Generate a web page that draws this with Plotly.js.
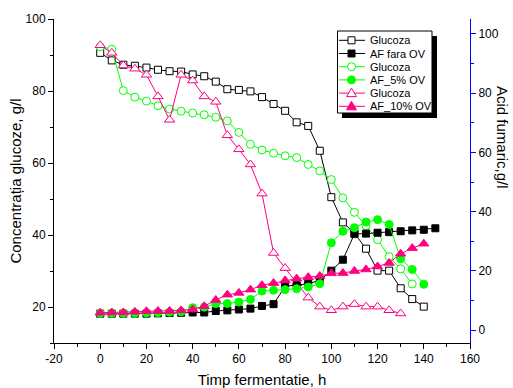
<!DOCTYPE html>
<html><head><meta charset="utf-8">
<script src="https://cdn.plot.ly/plotly-3.0.1.min.js"></script>
<style>html,body{margin:0;padding:0;background:#fff}#chart{width:513px;height:388px}</style>
</head><body><div id="chart"></div>
<script>
// ---- data ----
const tBlack = [0,5,10,15,20,25,30,35,40,45,50,55,60,65,70,75,80,85,90,95,100,105,110,115,120,125,130,135,140];
const glucBlack = [90.6,88.5,87.3,87.0,86.5,85.9,85.5,85.4,84.6,84.1,82.6,80.5,80.3,79.9,78.3,76.4,74.5,71.3,70.3,63.4,50.5,43.5,40.5,36.2,30.1,30.1,25.2,22.2,20.1];
const tAFBlack = [0,5,10,15,20,25,30,35,40,45,50,55,60,65,70,75,80,85,90,95,100,105,110,115,120,125,130,135,140,145];
const afBlack = [5.6,5.6,5.6,5.6,5.6,5.7,5.8,5.9,6.0,6.0,6.5,6.7,7.0,7.3,8.2,8.8,14.8,15.2,15.7,16.8,20.1,23.8,32.5,32.6,32.9,33.1,33.4,33.7,33.9,34.4];
const tGreen = [0,5,10,15,20,25,30,35,40,45,50,55,60,65,70,75,80,85,90,95,100,105,110,115,120,125,130,135];
const glucGreen = [92.3,91.6,80.1,78.3,77.2,75.9,75.0,74.4,73.9,73.4,72.7,71.7,68.5,65.2,63.6,62.7,62.0,61.5,59.6,57.8,55.4,50.3,46.3,42.6,38.7,34.0,30.6,26.4];
const tAFGreen = [0,5,10,15,20,25,30,35,40,45,50,55,60,65,70,75,80,85,90,95,100,105,110,115,120,125,130,135,140];
const afGreen = [5.7,5.7,5.7,5.7,5.8,5.9,6.1,6.2,7.6,7.8,9.0,9.0,9.5,10.4,13.2,13.5,13.7,14.0,14.6,15.7,29.5,33.4,34.6,36.5,37.3,35.7,24.1,20.5,15.5];
const tPink = [0,5,10,15,20,25,30,35,40,45,50,55,60,65,70,75,80,85,90,95,100,105,110,115,120,125,130];
const glucPink = [92.7,90.6,87.1,86.2,84.5,78.5,72.0,84.5,82.9,78.5,77.0,67.7,63.8,59.6,51.5,35.0,30.8,26.6,22.6,20.1,19.1,20.1,20.8,20.1,20.1,19.1,18.2];
const tAFPink = [0,5,10,15,20,25,30,35,40,45,50,55,60,65,70,75,80,85,90,95,100,105,110,115,120,125,130,135,140];
const afPink = [5.9,6.0,6.0,6.2,6.4,6.5,6.5,6.7,7.0,8.1,10.2,12.0,12.6,13.7,15.2,15.9,16.8,17.4,17.9,18.3,19.2,19.3,20.0,20.5,21.5,22.7,25.8,27.7,29.2];

const seriesNames = ['Glucoza','AF fara OV','Glucoza','AF_5% OV','Glucoza','AF_10% OV'];
const xTickVals = [-20,0,20,40,60,80,100,120,140,160];
const xTickText = ['-20','0','20','40','60','80','100','120','140','160'];
const yTickVals = [20,40,60,80,100];
const y2TickVals = [0,20,40,60,80,100];

// ---- styles ----
const BLACK='#000000', GREEN='#00ff00', PINK='#ff0080', BLUE='#0000ff';
const FONT='"Liberation Sans", Arial, sans-serif';
const styles = [
  {color:BLACK, symbol:'square', open:true, size:7},
  {color:BLACK, symbol:'square', open:false, size:7},
  {color:GREEN, symbol:'circle', open:true, size:8},
  {color:GREEN, symbol:'circle', open:false, size:8},
  {color:PINK, symbol:'triangle-up', open:true, size:9},
  {color:PINK, symbol:'triangle-up', open:false, size:9}
];
const xs = [tBlack,tAFBlack,tGreen,tAFGreen,tPink,tAFPink];
const ys = [glucBlack,afBlack,glucGreen,afGreen,glucPink,afPink];

const traces = ys.map((y,i)=>{
  const s = styles[i];
  return {
    type:'scatter', mode:'lines+markers', name:seriesNames[i],
    x:xs[i], y:y, yaxis: (i%2===1)?'y2':'y', showlegend:false,
    line:{color:s.color, width:1},
    marker:{symbol:s.symbol, size:s.size, color: s.open?'#ffffff':s.color,
            line:{color:s.color, width:1}}
  };
});

// ---- layout geometry ----
const W=513,H=388,ML=54,MR=43,MT=19,MB=45;
const PW=W-ML-MR, PH=H-MT-MB;
const px = v => (v-ML)/PW;
const py = v => (H-MB-v)/PH;

const shapes=[], annotations=[];
// legend shadow + box
shapes.push({type:'rect', xref:'paper', yref:'paper', x0:px(342), x1:px(437), y0:py(36), y1:py(118),
  fillcolor:'#000', line:{width:0}, layer:'above'});
shapes.push({type:'rect', xref:'paper', yref:'paper', x0:px(337.5), x1:px(432), y0:py(31), y1:py(113),
  fillcolor:'#fff', line:{color:'#000', width:1}, layer:'above'});
seriesNames.forEach((nm,i)=>{
  const s=styles[i];
  const yc = 40.3 + 13.2*i;
  const xc = 351.5;
  shapes.push({type:'line', xref:'paper', yref:'paper', x0:px(339), x1:px(365), y0:py(yc), y1:py(yc),
    line:{color:s.color, width:1}, layer:'above'});
  const fill = s.open?'#fff':s.color;
  if (s.symbol==='square') {
    shapes.push({type:'rect', xref:'paper', yref:'paper', x0:px(xc-3.5), x1:px(xc+3.5), y0:py(yc+3.5), y1:py(yc-3.5),
      fillcolor:fill, line:{color:s.color, width:1}, layer:'above'});
  } else if (s.symbol==='circle') {
    shapes.push({type:'circle', xref:'paper', yref:'paper', x0:px(xc-4), x1:px(xc+4), y0:py(yc+4), y1:py(yc-4),
      fillcolor:fill, line:{color:s.color, width:1}, layer:'above'});
  } else {
    const p = `M ${px(xc-5)} ${py(yc+3.5)} L ${px(xc+5)} ${py(yc+3.5)} L ${px(xc)} ${py(yc-5)} Z`;
    shapes.push({type:'path', xref:'paper', yref:'paper', path:p,
      fillcolor:fill, line:{color:s.color, width:1}, layer:'above'});
  }
  annotations.push({xref:'paper', yref:'paper', x:px(367.5), y:py(yc), xanchor:'left', yanchor:'middle',
    text:nm, showarrow:false, font:{family:FONT, size:11, color:'#000'}});
});
// right axis title
annotations.push({xref:'paper', yref:'paper', x:px(503), y:py(137), xanchor:'center', yanchor:'middle',
  text:'Acid fumaric,g/l', textangle:90, showarrow:false, font:{family:FONT, size:15, color:'#000'}});

const layout = {
  width:W, height:H, margin:{l:ML, r:MR, t:MT, b:MB, pad:0},
  paper_bgcolor:'#fff', plot_bgcolor:'#fff',
  font:{family:FONT, size:12, color:'#000'},
  showlegend:false,
  xaxis:{range:[-20,160], tickvals:xTickVals, ticktext:xTickText, ticks:'outside', ticklen:5, tickwidth:1, tickcolor:'#000',
    showline:true, linecolor:'#000', linewidth:1, showgrid:false, zeroline:false,
    minor:{dtick:10, tick0:0, ticks:'outside', ticklen:3, tickcolor:'#000', showgrid:false},
    tickfont:{size:12}, title:{text:'Timp fermentatie, h', font:{size:15}, standoff:10}},
  xaxis2:{overlaying:'x', side:'top', anchor:'y', range:[-20,160], dtick:20, tick0:0, ticks:'inside', ticklen:5, tickcolor:'#000',
    showline:true, linecolor:'#000', linewidth:1, showgrid:false, zeroline:false, showticklabels:false,
    minor:{dtick:10, tick0:0, ticks:'inside', ticklen:3, tickcolor:'#000', showgrid:false}},
  yaxis:{range:[10,100], tickvals:yTickVals, ticks:'outside', ticklen:5, tickwidth:1, tickcolor:'#000',
    showline:true, linecolor:'#000', linewidth:1, showgrid:false, zeroline:false,
    minor:{dtick:10, tick0:0, ticks:'outside', ticklen:3, tickcolor:'#000', showgrid:false},
    tickfont:{size:12}, title:{text:'Concentrația glucoze, g/l', font:{size:15}, standoff:0}},
  yaxis2:{overlaying:'y', side:'right', anchor:'x', range:[-4.3,105], tickvals:y2TickVals, ticks:'outside', ticklen:5, tickwidth:1, tickcolor:BLUE,
    showline:true, linecolor:BLUE, linewidth:1, showgrid:false, zeroline:false,
    minor:{dtick:10, tick0:0, ticks:'outside', ticklen:3, tickcolor:BLUE, showgrid:false},
    tickfont:{size:12, color:'#000'}},
  shapes:shapes, annotations:annotations
};
Plotly.newPlot('chart', traces, layout, {displayModeBar:false, staticPlot:true});
</script></body></html>
